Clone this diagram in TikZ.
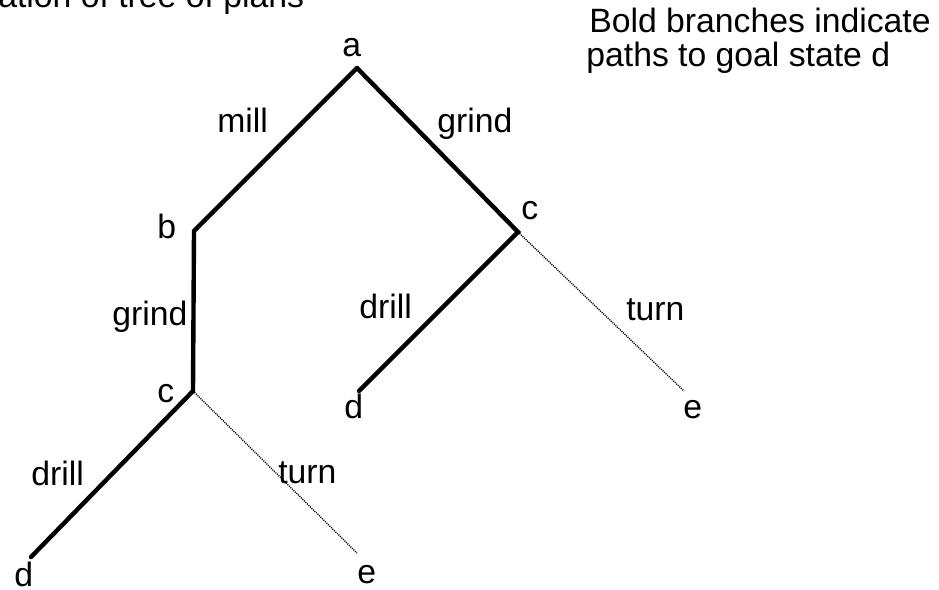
\documentclass[tikz,border=0pt]{standalone}
\usepackage{fontspec}
\setmainfont{Liberation Sans}
\usepackage{tikz}

\begin{document}
\begin{tikzpicture}[
  x=0.02cm, y=-0.02cm,
  every node/.style={font=\fontsize{19.2}{23}\selectfont, inner sep=0pt,
    anchor=base west},
  goalpath/.style={line width=2.5pt, line cap=round, draw=black},
  otherpath/.style={line width=0.8pt, draw=black,
    dash pattern=on 0.6pt off 0.6pt}
]
  \useasboundingbox (0,0) rectangle (939,589);

  % Caption lines
  \node (caption) at (-2,7) {ation of tree of plans};
  \node (noteA) at (589,32) {Bold branches indicate};
  \node (noteB) at (586,66) {paths to goal state d};

  % Tree vertices
  \coordinate (a) at (357,68);
  \coordinate (b) at (194,231);
  \coordinate (cl) at (193,391);
  \coordinate (dl) at (31,557);
  \coordinate (el) at (357,553);
  \coordinate (cr) at (518,232);
  \coordinate (dr) at (359,391);
  \coordinate (er) at (684,391);

  % State labels
  \node (sa) at (342,56) {a};
  \node (sb) at (157,238) {b};
  \node (scr) at (521,219) {c};
  \node (scl) at (157,402) {c};
  \node (sdr) at (344,418) {d};
  \node (ser) at (683,418) {e};
  \node (sdl) at (14,586) {d};
  \node (sel) at (357,583) {e};

  % Action labels
  \node (mill) at (217,132) {mill};
  \node (grindR) at (437,132) {grind};
  \node (grindL) at (112,325) {grind};
  \node (drillR) at (359,318) {drill};
  \node (turnR) at (626,320) {turn};
  \node (drillL) at (31,485) {drill};
  \node (turnL) at (278,483) {turn};

  % Branches
  \draw[goalpath] (a) -- (b) -- (cl) -- (dl);
  \draw[goalpath] (a) -- (cr) -- (dr);
  \draw[otherpath] (cl) -- (el);
  \draw[otherpath] (cr) -- (er);
\end{tikzpicture}
\end{document}
